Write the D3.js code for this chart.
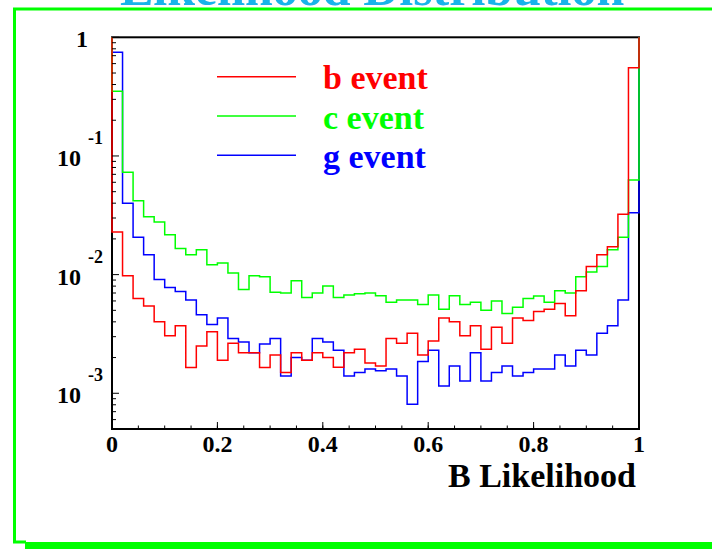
<!DOCTYPE html>
<html>
<head>
<meta charset="utf-8">
<script src="https://cdn.jsdelivr.net/npm/d3@7"></script>
<style>
  html, body { margin: 0; padding: 0; background: #fff; }
  svg { display: block; }
  text { font-family: "Liberation Serif", "Times New Roman", serif; font-weight: bold; }
</style>
</head>
<body>
<svg id="chart" width="712" height="549"></svg>
<script>
// B-likelihood output, 50 bins over [0, 1], normalised fractions per flavour
const binCount = 50;
const bEvent = [0.0229, 0.0098, 0.0063, 0.00545, 0.0040, 0.00305, 0.0037, 0.00165, 0.0025, 0.0033,
                0.0019, 0.00264, 0.0022, 0.0022, 0.00165, 0.0021, 0.0015, 0.0022, 0.0019, 0.0022,
                0.0020, 0.00166, 0.0022, 0.00235, 0.0018, 0.0017, 0.0029, 0.00264, 0.0032, 0.0021,
                0.00276, 0.0043, 0.0040, 0.00305, 0.0037, 0.00235, 0.0036, 0.00264, 0.0043, 0.0041,
                0.0049, 0.0051, 0.0057, 0.0045, 0.0073, 0.0117, 0.0147, 0.0172, 0.0323, 0.555];
const cEvent = [0.351, 0.073, 0.042, 0.0308, 0.0278, 0.0217, 0.0166, 0.0147, 0.0162, 0.0121,
                0.0125, 0.0103, 0.0075, 0.0098, 0.0096, 0.0071, 0.0070, 0.0089, 0.0064, 0.0070,
                0.0080, 0.0064, 0.00675, 0.0069, 0.0070, 0.00665, 0.00585, 0.0061, 0.0061, 0.0056,
                0.00675, 0.0051, 0.00665, 0.0056, 0.00585, 0.0050, 0.0060, 0.0047, 0.0053, 0.0063,
                0.0066, 0.00585, 0.0073, 0.0070, 0.0096, 0.0105, 0.0117, 0.0162, 0.0207, 0.0628];
const gEvent = [0.75, 0.040, 0.0207, 0.0147, 0.0091, 0.0078, 0.0072, 0.0061, 0.0046, 0.0038,
                0.0043, 0.0029, 0.0027, 0.0022, 0.0026, 0.0029, 0.0014, 0.0020, 0.0019, 0.0029,
                0.0027, 0.0023, 0.0014, 0.0015, 0.0016, 0.00155, 0.0016, 0.0014, 0.00081, 0.00185,
                0.0023, 0.00115, 0.0017, 0.00127, 0.0022, 0.00127, 0.0015, 0.0017, 0.0014, 0.0015,
                0.0016, 0.0016, 0.0021, 0.0017, 0.0023, 0.0021, 0.0032, 0.0037, 0.0061, 0.0333];

const seriesNames = ["b event", "c event", "g event"];
const seriesColors = ["#ff0000", "#00ff00", "#0000ff"];
const xTickLabels = ["0", "0.2", "0.4", "0.6", "0.8", "1"];
const yDecades = [-3, -2, -1, 0];
const titleText = "Likelihood Distribution";
const xTitle = "B Likelihood";

const svg = d3.select("#chart");

// pad border with its drop shadow
svg.append("rect").attr("x", 25).attr("y", 542).attr("width", 700).attr("height", 7)
  .attr("fill", "#00ff00");
svg.append("path").attr("d", "M14.5,542 V9 H720 M13,542 H26")
  .attr("fill", "none").attr("stroke", "#00ff00").attr("stroke-width", 3);
svg.append("line").attr("x1", 14).attr("x2", 712).attr("y1", 9).attr("y2", 9)
  .attr("stroke", "#00ff00").attr("stroke-width", 2);

// title sits above the pad, only its lower part shows
svg.append("text").attr("x", 120).attr("y", 5)
  .attr("font-size", 50).attr("fill", "#18b4ea").text(titleText);

const frame = { left: 112, right: 639, top: 37.3, bottom: 429 };
const x = d3.scaleLinear().domain([0, 1]).range([frame.left, frame.right]);
const y = d3.scaleLog().domain([5e-4, 1]).range([frame.bottom, frame.top]);

svg.append("rect")
  .attr("x", frame.left).attr("y", frame.top)
  .attr("width", frame.right - frame.left).attr("height", frame.bottom - frame.top)
  .attr("fill", "none").attr("stroke", "#000").attr("stroke-width", 2);

// histogram outlines; the edge verticals run up to the frame top
function histPoints(vals) {
  const top = y.domain()[1];
  const pts = [[0, top]];
  vals.forEach((v, i) => pts.push([i / binCount, v]));
  pts.push([1, vals[vals.length - 1]]);
  pts.push([1, top]);
  return pts;
}
const step = d3.line().x(d => x(d[0])).y(d => y(d[1])).curve(d3.curveStepAfter);

const allSeries = [bEvent, cEvent, gEvent];
// draw g first, then c, then b on top
[2, 1, 0].forEach(k => {
  svg.append("path")
    .attr("d", step(histPoints(allSeries[k])))
    .attr("fill", "none").attr("stroke", seriesColors[k]).attr("stroke-width", 1.5);
});

// y axis ticks (log)
const yMajors = yDecades.map(p => Math.pow(10, p));
const yMinors = [];
[-4, -3, -2, -1].forEach(p => {
  for (let m = 2; m <= 9; m++) {
    const v = m * Math.pow(10, p);
    if (v >= y.domain()[0] && v <= y.domain()[1]) yMinors.push(v);
  }
});
svg.append("g").selectAll("line").data(yMinors).join("line")
  .attr("x1", frame.left).attr("x2", frame.left + 4)
  .attr("y1", d => y(d)).attr("y2", d => y(d))
  .attr("stroke", "#000").attr("stroke-width", 1);
svg.append("g").selectAll("line").data(yMajors).join("line")
  .attr("x1", frame.left).attr("x2", frame.left + 7)
  .attr("y1", d => y(d)).attr("y2", d => y(d))
  .attr("stroke", "#000").attr("stroke-width", 1);

// y labels: "1" then 10 with exponent
const yLab = svg.append("g");
yDecades.forEach(p => {
  const ty = y(Math.pow(10, p));
  if (p === 0) {
    yLab.append("text").attr("x", 88).attr("y", ty + 10)
      .attr("text-anchor", "end").attr("font-size", 24).text("1");
  } else {
    yLab.append("text").attr("x", 81).attr("y", ty + 10)
      .attr("text-anchor", "end").attr("font-size", 24).text("10");
    yLab.append("text").attr("x", 88).attr("y", ty - 12)
      .attr("font-size", 18).text(String(p));
  }
});

// x axis ticks
const xMinors = d3.range(0, 21).map(i => i * 0.05);
const xMajors = d3.range(0, 6).map(i => i * 0.2);
svg.append("g").selectAll("line").data(xMinors).join("line")
  .attr("x1", d => x(d)).attr("x2", d => x(d))
  .attr("y1", frame.bottom).attr("y2", frame.bottom - 3.5)
  .attr("stroke", "#000").attr("stroke-width", 1);
svg.append("g").selectAll("line").data(xMajors).join("line")
  .attr("x1", d => x(d)).attr("x2", d => x(d))
  .attr("y1", frame.bottom).attr("y2", frame.bottom - 7)
  .attr("stroke", "#000").attr("stroke-width", 1);
svg.append("g").selectAll("text").data(xMajors).join("text")
  .attr("x", d => x(d)).attr("y", 452)
  .attr("text-anchor", "middle").attr("font-size", 24)
  .text((d, i) => xTickLabels[i]);

svg.append("text").attr("x", 636).attr("y", 487)
  .attr("text-anchor", "end").attr("font-size", 34).text(xTitle);

// legend
const legend = svg.append("g");
seriesNames.forEach((name, i) => {
  const ly = 76.7 + i * 39.3;
  legend.append("line").attr("x1", 217).attr("x2", 296).attr("y1", ly).attr("y2", ly)
    .attr("stroke", seriesColors[i]).attr("stroke-width", 1.5);
  legend.append("text").attr("x", 323).attr("y", ly + 12.5)
    .attr("font-size", 34).attr("fill", seriesColors[i]).text(name);
});
</script>
</body>
</html>
